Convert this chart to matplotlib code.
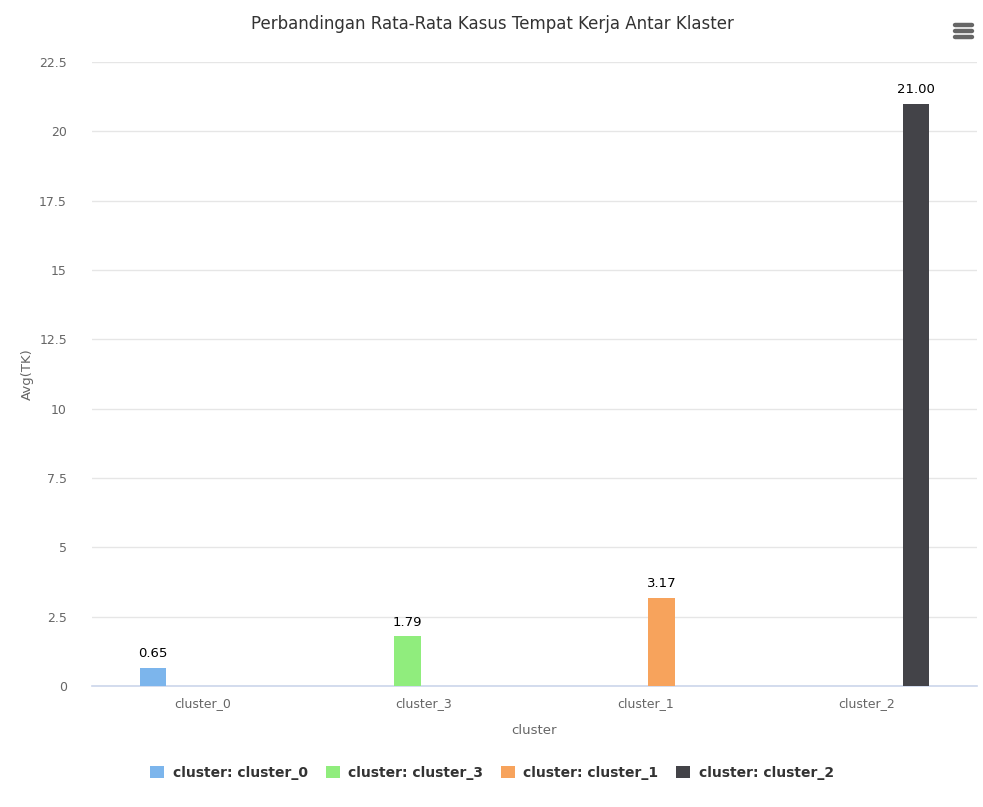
import matplotlib
matplotlib.use("Agg")
import matplotlib.pyplot as plt
from matplotlib.patches import Patch
from matplotlib.ticker import MultipleLocator, FuncFormatter
import numpy as np

categories = ["cluster_0", "cluster_3", "cluster_1", "cluster_2"]
series_names = ["cluster: cluster_0", "cluster: cluster_3", "cluster: cluster_1", "cluster: cluster_2"]
values = [0.65, 1.79, 3.17, 21.00]
colors = ["#7cb5ec", "#90ed7d", "#f7a35c", "#434348"]

plt.rcParams['font.family'] = ['DejaVu Sans']

fig = plt.figure(figsize=(9.83, 8.07), dpi=100)
ax = fig.add_axes([92/983, 1-686/807, (977-92)/983, (686-62)/807])

n = len(categories)
group_w = 0.6
slot = group_w / n
bar_w = slot * 0.8
x = np.arange(n)
for i, (name, v, c) in enumerate(zip(series_names, values, colors)):
    off = -group_w/2 + slot*(i+0.5)
    ax.bar(x[i] + off, v, width=bar_w, color=c, zorder=3, label=name)
    ax.text(x[i] + off, v + 0.28, f"{v:.2f}", ha='center', va='bottom',
            fontsize=9.5, color='black', zorder=4)

ax.set_xlim(-0.5, n-0.5)
ax.set_ylim(0, 22.5)
ax.yaxis.set_major_locator(MultipleLocator(2.5))
ax.yaxis.set_major_formatter(FuncFormatter(lambda v, p: f"{v:g}"))
ax.set_xticks(x)
ax.set_xticklabels(categories)
ax.grid(axis='y', color='#e6e6e6', linewidth=1, zorder=0)
for s in ['top', 'right', 'left']:
    ax.spines[s].set_visible(False)
ax.spines['bottom'].set_color('#ccd6eb')
ax.spines['bottom'].set_linewidth(1.2)
ax.tick_params(axis='y', length=0, labelsize=9, labelcolor='#666666', pad=18)
ax.tick_params(axis='x', length=0, labelsize=9, labelcolor='#666666', pad=8)

ax.set_xlabel("cluster", fontsize=9.5, color='#666666', labelpad=10)
ax.set_ylabel("Avg(TK)", fontsize=9.5, color='#666666', labelpad=4)

fig.text(492/983, 1-24/807, "Perbandingan Rata-Rata Kasus Tempat Kerja Antar Klaster",
         ha='center', va='center', fontsize=12, color='#333333')

# menu icon
for yy in [25, 31, 37]:
    fig.add_artist(plt.Line2D([955/983, 972/983], [1-yy/807, 1-yy/807],
                              color='#666666', linewidth=3.2, solid_capstyle='round'))

handles = [Patch(facecolor=c, edgecolor='none') for c in colors]
leg = fig.legend(handles, series_names, loc='center', ncol=4,
                 bbox_to_anchor=(492/983, 1-773/807), frameon=False,
                 handlelength=1.0, handleheight=1.0, handletextpad=0.6,
                 columnspacing=1.3, prop={'weight': 'bold', 'size': 10})
for t in leg.get_texts():
    t.set_color('#333333')

fig.savefig("out.png", dpi=100, facecolor='white')
